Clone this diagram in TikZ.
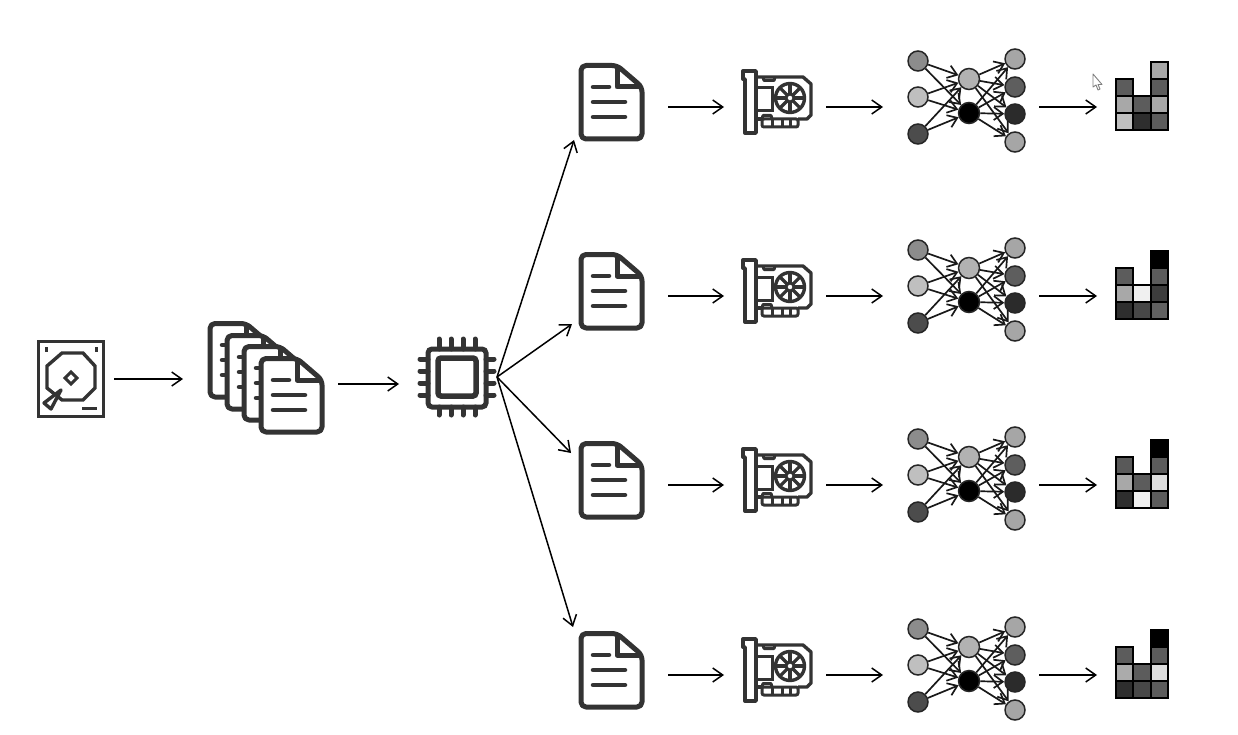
\documentclass[tikz,border=0pt]{standalone}
\usepackage{tikz}
\usetikzlibrary{arrows.meta}
\definecolor{icondark}{HTML}{333333}
\tikzset{
	iconbox/.style={inner sep=0pt,outer sep=0pt},
	arr/.style={-{Straight Barb[length=10pt,width=14pt]},line width=1.5pt,black},
	edge/.style={-{Straight Barb[length=9pt,width=13pt]},line width=1.7pt,black!90},
	unit/.style={circle,draw=black!85,line width=1.5pt,minimum size=20pt,inner sep=0pt},
	cell/.style={draw=black,line width=2.2pt},
	pics/filedoc/.style={code={
		\draw[icondark,fill=white,line width=5pt,rounded corners=5pt,line join=round] (-31,-41.5) -- (5,-41.5) -- (30,-20) -- (30,32) -- (-31,32) -- cycle;
		\draw[icondark,line width=5pt,line join=round] (5,-41.5) -- (5,-20) -- (30,-20);
		\draw[icondark,line width=4.5pt,line cap=round] (-19,-20) -- (-3,-20);
		\draw[icondark,line width=4.5pt,line cap=round] (-19,-5) -- (13,-5);
		\draw[icondark,line width=4.5pt,line cap=round] (-19,10) -- (13,10);
	}},
	pics/gpucard/.style={code={
		\draw[icondark,line width=3.4pt,line join=round] (-34,-36) -- (-21,-36) -- (-21,26) -- (-32,26) -- (-32,-28) -- (-34,-28) -- cycle;
		\draw[icondark,line width=3.4pt,line join=round] (-21,-30) -- (26,-30) -- (34,-23) -- (34,8) -- (30,12) -- (21,12);
		\draw[icondark,line width=3.4pt] (-21,12) -- (-15,12);
		\draw[icondark,line width=3pt,line join=round] (-14,-30) -- (-13,-26.5) -- (-3,-26.5) -- (-2,-30);
		\draw[icondark,line width=3pt] (-21,-19) -- (-5,-19) -- (-5,4) -- (-21,4);
		\draw[icondark,line width=3pt,rounded corners=2pt] (-15,12) rectangle (21,20);
		\draw[icondark,line width=3pt] (-5,12) -- (-5,20);
		\draw[icondark,line width=3pt] (5,12) -- (5,20);
		\draw[icondark,line width=3pt] (13,12) -- (13,20);
		\draw[icondark,line width=3pt,line join=round] (-15,12) -- (-14,8.5) -- (-6,8.5) -- (-5,12);
		\draw[icondark,fill=white,line width=3.4pt] (13,-9) circle (14.5);
		\foreach \a in {0,45,...,315}
			\draw[icondark,line width=3.2pt] (13,-9) -- ++(\a:14);
		\draw[icondark,fill=white,line width=3pt] (13,-9) circle (4);
	}},
	pics/mlpnet/.style={code={
		\node[unit,fill=black!45] (-in1) at (-49,-46) {};
		\node[unit,fill=black!25] (-in2) at (-49,-10) {};
		\node[unit,fill=black!70] (-in3) at (-49,27) {};
		\node[unit,fill=black!30,minimum size=21pt] (-hid1) at (2,-28) {};
		\node[unit,fill=black,minimum size=21pt] (-hid2) at (2,6) {};
		\node[unit,fill=black!35] (-out1) at (48,-48) {};
		\node[unit,fill=black!63] (-out2) at (48,-20) {};
		\node[unit,fill=black!83] (-out3) at (48,7) {};
		\node[unit,fill=black!35] (-out4) at (48,35) {};
		\draw[edge] (-in1) -- (-hid1);
		\draw[edge] (-in1) -- (-hid2);
		\draw[edge] (-in2) -- (-hid1);
		\draw[edge] (-in2) -- (-hid2);
		\draw[edge] (-in3) -- (-hid1);
		\draw[edge] (-in3) -- (-hid2);
		\draw[edge] (-hid1) -- (-out1);
		\draw[edge] (-hid1) -- (-out2);
		\draw[edge] (-hid1) -- (-out3);
		\draw[edge] (-hid1) -- (-out4);
		\draw[edge] (-hid2) -- (-out1);
		\draw[edge] (-hid2) -- (-out2);
		\draw[edge] (-hid2) -- (-out3);
		\draw[edge] (-hid2) -- (-out4);
	}},
	pics/histo/.style n args={9}{code={
		\draw[cell,fill=black!#1] (-26,-28) rectangle (-9,-11);
		\draw[cell,fill=black!#3] (-26,6) rectangle (-9,23);
		\draw[cell,fill=black!#5] (-9,6) rectangle (9,23);
		\draw[cell,fill=black!#9] (9,6) rectangle (26,23);
		\draw[cell,fill=black!#6] (9,-45) rectangle (26,-28);
		\draw[cell,fill=black!#7] (9,-28) rectangle (26,-11);
		\draw[cell,fill=black!#4] (-9,-11) rectangle (9,6);
		\draw[cell,fill=black!#8] (9,-11) rectangle (26,6);
		\draw[cell,fill=black!#2] (-26,-11) rectangle (-9,6);
	}},
}

\begin{document}
\begin{tikzpicture}[x=1pt,y=-1pt]
		\useasboundingbox (0,0) rectangle (1238,735);
		\node[iconbox,minimum width=68pt,minimum height=78pt] (hdd) at (71,379) {};
		\node[iconbox,minimum width=117pt,minimum height=113pt] (stack) at (266.5,384) {};
		\node[iconbox,minimum width=80pt,minimum height=80pt] (cpu) at (457,377) {};
		\coordinate (tip1) at (574,140);
		\coordinate (tip2) at (572,324);
		\coordinate (tip3) at (571,453);
		\coordinate (tip4) at (573,627);

		% disk
		\draw[icondark,line width=3.4pt] (38.5,341.5) rectangle (103.5,416.5);
		\draw[icondark,line width=3.4pt] (62,353) -- (83,353) -- (95,366) -- (95,388) -- (83,400) -- (62,400) -- (47,388) -- (47,366) -- cycle;
		\draw[icondark,line width=3pt] (71,372) -- (77,378) -- (71,384) -- (65,378) -- cycle;
		\fill[icondark] (44.5,347) rectangle (47.5,352);
		\fill[icondark] (94.5,347) rectangle (97.5,352);
		\draw[icondark,line width=3pt] (82,408) -- (97,408);
		\draw[icondark,fill=white,line width=3.4pt,line join=round] (61,390) -- (44,403) -- (51,409) -- cycle;

		% pile of files
		\pic at (241,365) {filedoc};
		\pic at (258,377) {filedoc};
		\pic at (275,388) {filedoc};
		\pic at (292,400) {filedoc};

		% processor
		\draw[icondark,line width=5pt,rounded corners=4pt] (428,349) rectangle (486,407);
		\draw[icondark,line width=5.5pt,rounded corners=3pt] (438,358) rectangle (476,396);
		\draw[icondark,line width=5pt,line cap=round] (439,339) -- (439,349);
		\draw[icondark,line width=5pt,line cap=round] (451,339) -- (451,349);
		\draw[icondark,line width=5pt,line cap=round] (463,339) -- (463,349);
		\draw[icondark,line width=5pt,line cap=round] (475,339) -- (475,349);
		\draw[icondark,line width=5pt,line cap=round] (439,407) -- (439,415);
		\draw[icondark,line width=5pt,line cap=round] (451,407) -- (451,415);
		\draw[icondark,line width=5pt,line cap=round] (463,407) -- (463,415);
		\draw[icondark,line width=5pt,line cap=round] (475,407) -- (475,415);
		\draw[icondark,line width=5pt,line cap=round] (420,359) -- (428,359);
		\draw[icondark,line width=5pt,line cap=round] (420,371) -- (428,371);
		\draw[icondark,line width=5pt,line cap=round] (420,383) -- (428,383);
		\draw[icondark,line width=5pt,line cap=round] (420,395) -- (428,395);
		\draw[icondark,line width=5pt,line cap=round] (486,359) -- (494,359);
		\draw[icondark,line width=5pt,line cap=round] (486,371) -- (494,371);
		\draw[icondark,line width=5pt,line cap=round] (486,383) -- (494,383);
		\draw[icondark,line width=5pt,line cap=round] (486,395) -- (494,395);

		\draw[arr,shorten <=9pt,shorten >=25pt] (hdd.east) -- (hdd.east -| stack.west);
		\draw[arr,shorten <=13pt,shorten >=18pt] (stack.east) -- (stack.east -| cpu.west);
		\draw[arr] (cpu.east) -- (tip1);
		\draw[arr] (cpu.east) -- (tip2);
		\draw[arr] (cpu.east) -- (tip3);
		\draw[arr] (cpu.east) -- (tip4);

		% mouse pointer
		\draw[black!50,fill=white,line width=0.9pt,line join=round] (1093,74) -- (1093,87) -- (1096,85) -- (1098,90) -- (1100,89) -- (1098,84.5) -- (1102,84.5) -- cycle;

		\begin{scope}
		\node[iconbox,minimum width=66pt,minimum height=80pt] (file1) at (612,107) {};
		\node[iconbox,minimum width=71pt,minimum height=66pt] (gpu1) at (777,107) {};
		\node[iconbox,minimum width=118pt,minimum height=100pt] (net1) at (967,107) {};
		\node[iconbox,minimum width=52pt,minimum height=70pt] (hist1) at (1142,107) {};
		\pic at (file1) {filedoc};
		\pic at (gpu1) {gpucard};
		\pic (mlp1) at (net1) {mlpnet};
		\pic at (hist1) {histo={64}{34}{25}{64}{82}{34}{64}{34}{64}};
		\draw[arr,shorten <=23pt,shorten >=17.5pt] (file1) -- (gpu1);
		\draw[arr,shorten <=13.5pt,shorten >=25pt] (gpu1) -- (net1);
		\draw[arr,shorten <=13pt,shorten >=19pt] (net1) -- (hist1);
		\end{scope}

		\begin{scope}[yshift=-189pt]
		\node[iconbox,minimum width=66pt,minimum height=80pt] (file2) at (612,107) {};
		\node[iconbox,minimum width=71pt,minimum height=66pt] (gpu2) at (777,107) {};
		\node[iconbox,minimum width=118pt,minimum height=100pt] (net2) at (967,107) {};
		\node[iconbox,minimum width=52pt,minimum height=70pt] (hist2) at (1142,107) {};
		\pic at (file2) {filedoc};
		\pic at (gpu2) {gpucard};
		\pic (mlp2) at (net2) {mlpnet};
		\pic at (hist2) {histo={64}{34}{82}{6}{72}{100}{64}{76}{62}};
		\draw[arr,shorten <=23pt,shorten >=17.5pt] (file2) -- (gpu2);
		\draw[arr,shorten <=13.5pt,shorten >=25pt] (gpu2) -- (net2);
		\draw[arr,shorten <=13pt,shorten >=19pt] (net2) -- (hist2);
		\end{scope}

		\begin{scope}[yshift=-378pt]
		\node[iconbox,minimum width=66pt,minimum height=80pt] (file3) at (612,107) {};
		\node[iconbox,minimum width=71pt,minimum height=66pt] (gpu3) at (777,107) {};
		\node[iconbox,minimum width=118pt,minimum height=100pt] (net3) at (967,107) {};
		\node[iconbox,minimum width=52pt,minimum height=70pt] (hist3) at (1142,107) {};
		\pic at (file3) {filedoc};
		\pic at (gpu3) {gpucard};
		\pic (mlp3) at (net3) {mlpnet};
		\pic at (hist3) {histo={65}{34}{82}{64}{6}{100}{64}{13}{64}};
		\draw[arr,shorten <=23pt,shorten >=17.5pt] (file3) -- (gpu3);
		\draw[arr,shorten <=13.5pt,shorten >=25pt] (gpu3) -- (net3);
		\draw[arr,shorten <=13pt,shorten >=19pt] (net3) -- (hist3);
		\end{scope}

		\begin{scope}[yshift=-568pt]
		\node[iconbox,minimum width=66pt,minimum height=80pt] (file4) at (612,107) {};
		\node[iconbox,minimum width=71pt,minimum height=66pt] (gpu4) at (777,107) {};
		\node[iconbox,minimum width=118pt,minimum height=100pt] (net4) at (967,107) {};
		\node[iconbox,minimum width=52pt,minimum height=70pt] (hist4) at (1142,107) {};
		\pic at (file4) {filedoc};
		\pic at (gpu4) {gpucard};
		\pic (mlp4) at (net4) {mlpnet};
		\pic at (hist4) {histo={64}{33}{82}{64}{72}{100}{64}{13}{64}};
		\draw[arr,shorten <=23pt,shorten >=17.5pt] (file4) -- (gpu4);
		\draw[arr,shorten <=13.5pt,shorten >=25pt] (gpu4) -- (net4);
		\draw[arr,shorten <=13pt,shorten >=19pt] (net4) -- (hist4);
		\end{scope}
\end{tikzpicture}
\end{document}
